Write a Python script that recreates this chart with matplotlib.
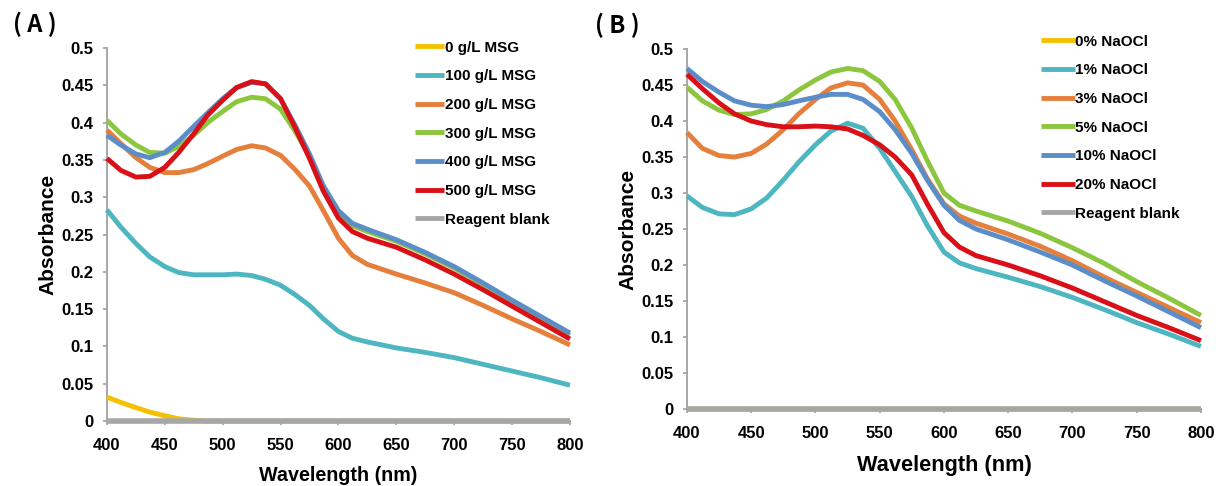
import matplotlib
matplotlib.use("Agg")
import matplotlib.pyplot as plt

# wavelengths (nm)
wl = [400, 412, 425, 437, 450, 462, 475, 487, 500, 512, 525, 537, 550, 562,
      575, 587, 600, 612, 625, 650, 675, 700, 725, 750, 775, 800]

# ---- panel A: MSG concentration ----
msg_0 = [0.032, 0.025, 0.018, 0.012, 0.007, 0.003, 0.001, 0, 0, 0, 0, 0, 0, 0,
         0, 0, 0, 0, 0, 0, 0, 0, 0, 0, 0, 0]
msg_100 = [0.283, 0.260, 0.238, 0.220, 0.207, 0.199, 0.196, 0.196, 0.196, 0.197, 0.195, 0.190, 0.182, 0.170,
           0.155, 0.137, 0.120, 0.111, 0.106, 0.098, 0.092, 0.085, 0.076, 0.067, 0.058, 0.048]
msg_200 = [0.390, 0.372, 0.353, 0.340, 0.333, 0.333, 0.337, 0.345, 0.355, 0.364, 0.369, 0.366, 0.356, 0.338,
           0.315, 0.282, 0.245, 0.222, 0.210, 0.197, 0.185, 0.172, 0.155, 0.137, 0.120, 0.102]
msg_300 = [0.403, 0.385, 0.370, 0.360, 0.359, 0.368, 0.383, 0.400, 0.415, 0.428, 0.434, 0.432, 0.418, 0.390,
           0.355, 0.315, 0.280, 0.262, 0.254, 0.241, 0.224, 0.205, 0.183, 0.160, 0.138, 0.115]
msg_400 = [0.383, 0.370, 0.358, 0.353, 0.360, 0.375, 0.395, 0.413, 0.432, 0.447, 0.454, 0.452, 0.432, 0.398,
           0.358, 0.315, 0.282, 0.265, 0.257, 0.243, 0.226, 0.207, 0.185, 0.162, 0.140, 0.118]
msg_500 = [0.352, 0.336, 0.327, 0.328, 0.340, 0.360, 0.385, 0.410, 0.430, 0.447, 0.455, 0.452, 0.432, 0.395,
           0.352, 0.308, 0.272, 0.254, 0.245, 0.233, 0.216, 0.197, 0.176, 0.154, 0.132, 0.110]
blank_a = [0] * len(wl)
labels_a = ["0 g/L MSG", "100 g/L MSG", "200 g/L MSG", "300 g/L MSG",
            "400 g/L MSG", "500 g/L MSG", "Reagent blank"]

# ---- panel B: NaOCl concentration ----
naocl_0 = [0] * len(wl)
naocl_1 = [0.296, 0.280, 0.271, 0.270, 0.278, 0.293, 0.318, 0.343, 0.367, 0.386, 0.397, 0.390, 0.362, 0.330,
           0.295, 0.255, 0.218, 0.203, 0.195, 0.183, 0.170, 0.155, 0.138, 0.120, 0.104, 0.087]
naocl_3 = [0.384, 0.362, 0.352, 0.350, 0.355, 0.368, 0.388, 0.410, 0.430, 0.446, 0.453, 0.450, 0.430, 0.400,
           0.360, 0.320, 0.285, 0.268, 0.258, 0.243, 0.226, 0.206, 0.183, 0.162, 0.141, 0.120]
naocl_5 = [0.447, 0.428, 0.415, 0.409, 0.410, 0.416, 0.428, 0.443, 0.457, 0.468, 0.473, 0.470, 0.455, 0.430,
           0.390, 0.345, 0.300, 0.283, 0.275, 0.261, 0.244, 0.224, 0.202, 0.177, 0.154, 0.130]
naocl_10 = [0.473, 0.455, 0.440, 0.428, 0.422, 0.420, 0.423, 0.428, 0.433, 0.437, 0.437, 0.430, 0.413, 0.388,
            0.355, 0.318, 0.283, 0.262, 0.250, 0.235, 0.218, 0.200, 0.178, 0.157, 0.135, 0.113]
naocl_20 = [0.465, 0.445, 0.425, 0.410, 0.400, 0.395, 0.392, 0.392, 0.393, 0.392, 0.389, 0.380, 0.367, 0.350,
            0.325, 0.285, 0.245, 0.225, 0.213, 0.200, 0.185, 0.168, 0.149, 0.130, 0.113, 0.095]
blank_b = [0] * len(wl)
labels_b = ["0% NaOCl", "1% NaOCl", "3% NaOCl", "5% NaOCl",
            "10% NaOCl", "20% NaOCl", "Reagent blank"]

COLORS = ["#F5C000", "#4DB6C0", "#E57F3C", "#8CC63F", "#5B8EC8", "#DA1018", "#A6A6A6"]
XTICKS = [400, 450, 500, 550, 600, 650, 700, 750, 800]
YTICKS = [0, 0.05, 0.1, 0.15, 0.2, 0.25, 0.3, 0.35, 0.4, 0.45, 0.5]
GRAY = "#A0A0A0"
FONT = "Liberation Sans"
CJK = ["Noto Sans CJK SC", "DejaVu Sans"]


def style_axes(ax, label_size, xlabelpad):
    ax.set_xlim(400, 800)
    ax.set_ylim(0, 0.5)
    ax.set_xticks(XTICKS)
    ax.set_yticks(YTICKS)
    ax.set_xticklabels([str(v) for v in XTICKS], fontweight="bold", fontsize=12, family=FONT)
    ax.set_yticklabels([f"{v:g}" for v in YTICKS], fontweight="bold", fontsize=12, family=FONT)
    for s in ("top", "right"):
        ax.spines[s].set_visible(False)
    for s in ("left", "bottom"):
        ax.spines[s].set_color(GRAY)
        ax.spines[s].set_linewidth(1.3)
    ax.tick_params(colors=GRAY, labelcolor="black", length=3, width=1.2, direction="out")
    ax.tick_params(axis="x", pad=9)
    ax.tick_params(axis="y", pad=6.5)
    ax.set_ylabel("Absorbance", fontsize=15, fontweight="bold", family=FONT, labelpad=3)
    ax.set_xlabel("Wavelength (nm)", fontsize=label_size, fontweight="bold", family=FONT,
                  labelpad=xlabelpad)


fig = plt.figure(figsize=(12.18, 4.86), dpi=100)
ax_a = fig.add_axes([0.0878, 0.1337, 0.3801, 0.7675])
ax_b = fig.add_axes([0.5640, 0.1584, 0.4220, 0.7407])

series_a = [msg_0, msg_100, msg_200, msg_300, msg_400, msg_500, blank_a]
series_b = [naocl_0, naocl_1, naocl_3, naocl_5, naocl_10, naocl_20, blank_b]

for ax, series, labels in ((ax_a, series_a, labels_a), (ax_b, series_b, labels_b)):
    for i, (vals, lab, c) in enumerate(zip(series, labels, COLORS)):
        lw = 4.0 if lab == "Reagent blank" else 3.5   # blank sits on top of the 0 trace
        ax.plot(wl, vals, color=c, lw=lw, label=lab, solid_capstyle="butt",
                solid_joinstyle="round", clip_on=False, zorder=3, snap=False)

style_axes(ax_a, 14.2, 9.5)
style_axes(ax_b, 15.7, 10)

for ax, anchor, hl in ((ax_a, (0.665, 1.02), 1.9), (ax_b, (0.689, 1.04), 2.2)):
    leg = ax.legend(loc="upper left", bbox_to_anchor=anchor, frameon=False,
                    borderpad=0, borderaxespad=0,
                    handlelength=hl, handletextpad=0.05, labelspacing=0.96,
                    prop={"family": FONT, "weight": "bold", "size": 11})
    for h in leg.get_lines():
        h.set_linewidth(3.5)

fig.text(0.0287, 0.949, "( A )", fontsize=17, ha="center", va="center",
         family=CJK, fontweight="bold")
fig.text(0.5066, 0.947, "( B )", fontsize=17, ha="center", va="center",
         family=CJK, fontweight="bold")

fig.savefig("out.png", dpi=100)
